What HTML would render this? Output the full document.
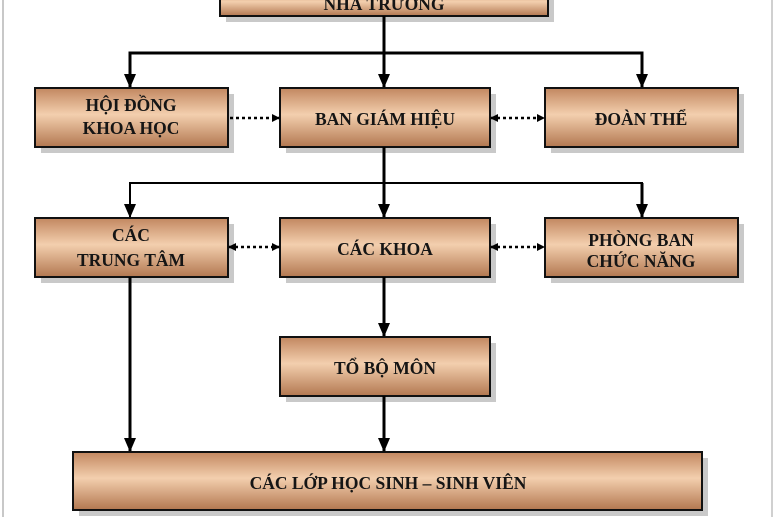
<!DOCTYPE html>
<html><head><meta charset="utf-8"><style>
html,body{margin:0;padding:0;background:#fff;width:777px;height:517px;overflow:hidden}
text{font-family:"Liberation Serif",serif;font-weight:bold;font-size:17.5px;fill:#151515;text-anchor:middle}
</style></head><body>
<svg width="777" height="517" viewBox="0 0 777 517" xmlns="http://www.w3.org/2000/svg">
<defs>
<linearGradient id="g" x1="0" y1="0" x2="0" y2="1">
<stop offset="0" stop-color="#c28760"/>
<stop offset="0.45" stop-color="#f3cfae"/>
<stop offset="1" stop-color="#b27750"/>
</linearGradient>
<marker id="a" markerWidth="8" markerHeight="8" refX="7" refY="4" orient="auto" markerUnits="userSpaceOnUse"><path d="M0,0 L8,4 L0,8z" fill="#000"/></marker>
<marker id="b" markerWidth="14" markerHeight="12" refX="13" refY="6" orient="auto" markerUnits="userSpaceOnUse"><path d="M0,0 L14,6 L0,12z" fill="#000"/></marker>
<marker id="as" markerWidth="8" markerHeight="8" refX="1" refY="4" orient="auto" markerUnits="userSpaceOnUse"><path d="M8,0 L0,4 L8,8z" fill="#000"/></marker>
</defs>
<line x1="3" y1="0" x2="3" y2="517" stroke="#c8c8c8" stroke-width="2"/>
<line x1="772" y1="0" x2="772" y2="517" stroke="#d0d0d0" stroke-width="2"/>
<g fill="#c9c9c9">
<rect x="226" y="-5" width="328" height="27"/>
<rect x="41" y="94" width="193" height="59"/><rect x="286" y="94" width="210" height="59"/><rect x="551" y="94" width="193" height="59"/>
<rect x="41" y="224" width="193" height="59"/><rect x="286" y="224" width="210" height="59"/><rect x="551" y="224" width="193" height="59"/>
<rect x="286" y="343" width="210" height="59"/><rect x="79" y="458" width="629" height="58"/>
</g>
<g fill="url(#g)" stroke="#111" stroke-width="2">
<rect x="220" y="-10" width="328" height="26"/>
<rect x="35" y="88" width="193" height="59"/><rect x="280" y="88" width="210" height="59"/><rect x="545" y="88" width="193" height="59"/>
<rect x="35" y="218" width="193" height="59"/><rect x="280" y="218" width="210" height="59"/><rect x="545" y="218" width="193" height="59"/>
<rect x="280" y="337" width="210" height="59"/><rect x="73" y="452" width="629" height="58"/>
</g>
<g stroke="#000" stroke-width="3" fill="none">
<line x1="384" y1="16" x2="384" y2="87" marker-end="url(#b)"/>
<polyline points="130,87 130,53 642,53 642,87" marker-end="url(#b)"/>
<line x1="130" y1="53" x2="130" y2="87" marker-end="url(#b)"/>
<line x1="384" y1="147" x2="384" y2="217" marker-end="url(#b)"/>
<polyline points="642,217 642,183 130,183 130,217" stroke-width="2" marker-end="url(#b)"/>
<line x1="642" y1="183" x2="642" y2="217" marker-end="url(#b)"/>
<line x1="384" y1="277" x2="384" y2="336" marker-end="url(#b)"/>
<line x1="384" y1="396" x2="384" y2="451" marker-end="url(#b)"/>
<line x1="130" y1="277" x2="130" y2="451" marker-end="url(#b)"/>
</g>
<g stroke="#000" stroke-width="2.5" stroke-dasharray="3,3" fill="none">
<line x1="230" y1="118" x2="279" y2="118" marker-end="url(#a)"/>
<line x1="491" y1="118" x2="544" y2="118" marker-start="url(#as)" marker-end="url(#a)"/>
<line x1="229" y1="247" x2="279" y2="247" marker-start="url(#as)" marker-end="url(#a)"/>
<line x1="491" y1="247" x2="544" y2="247" marker-start="url(#as)" marker-end="url(#a)"/>
</g>
<text x="384" y="10">NHÀ TRƯỜNG</text>
<text x="131" y="111">HỘI ĐỒNG</text><text x="131" y="134">KHOA HỌC</text>
<text x="385" y="125">BAN GIÁM HIỆU</text>
<text x="641" y="125">ĐOÀN THỂ</text>
<text x="131" y="241">CÁC</text><text x="131" y="266">TRUNG TÂM</text>
<text x="385" y="255">CÁC KHOA</text>
<text x="641" y="246">PHÒNG BAN</text><text x="641" y="267">CHỨC NĂNG</text>
<text x="385" y="374">TỔ BỘ MÔN</text>
<text x="388" y="489">CÁC LỚP HỌC SINH – SINH VIÊN</text>
</svg>
</body></html>
